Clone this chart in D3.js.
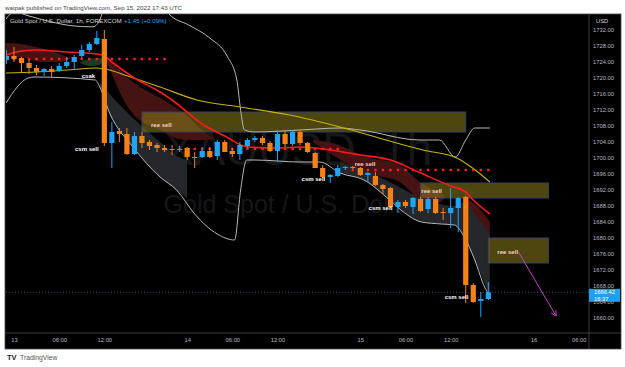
<!DOCTYPE html>
<html><head><meta charset="utf-8">
<script src="https://cdn.jsdelivr.net/npm/d3@7"></script>
<style>body{margin:0;background:#fff;} svg{display:block;font-family:"Liberation Sans",Arial,sans-serif;}</style>
</head><body><svg id="c" width="625" height="367"></svg>
<script>
// ---------- DATA ----------
const firstBar = -1; // bar index of first candle (13 Sep 00:00 UTC = 0)
const opens  = [1724.5,1725.5,1725,1723.75,1722.5,1721.5,1722.25,1721.75,1723,1724,1725.5,1727,1728.5,1729.75,1703.75,1706.75,1706,1701,1705.5,1704,1703.25,1702.5,1702.25,1702,1702.5,1700.25,1700.25,1701.75,1700.5,1704,1701.75,1701,1703,1704.5,1705,1703.75,1701.75,1706,1703.5,1706.5,1703.75,1701.25,1697.5,1695.25,1695.5,1697.5,1697.75,1697.5,1695.75,1695.5,1693.25,1692.5,1687.75,1689,1687.75,1689.75,1687.25,1689.75,1686.5,1686.25,1687.5,1690.25,1668.25,1664.25,1664.75];
const highs  = [1727,1727.75,1725.25,1724.5,1723.25,1722.5,1723,1723.75,1725.25,1725.75,1728.25,1729,1731.75,1732,1709,1707.5,1707.5,1706.5,1706.5,1704.5,1703.75,1703.25,1703.25,1703,1702.75,1701.5,1702.75,1702.75,1704.5,1704.5,1702.5,1704,1705,1705.5,1705.5,1704.25,1707,1707,1707,1707,1704,1701.5,1698.25,1696,1698.25,1698,1698,1697.75,1696.5,1696.5,1693.5,1692.75,1689.5,1689.5,1690.25,1690.25,1690.25,1690.25,1687.5,1692.5,1690.25,1690.5,1668.75,1666.5,1669];
const lows   = [1723.5,1724,1721.25,1721,1720.75,1720.5,1720.25,1721.5,1722.5,1722,1725,1726.5,1728.25,1703,1697.5,1704,1700.75,1700.75,1702.5,1702,1701.5,1701.5,1700.75,1701.5,1699.5,1697.5,1700,1700,1699.5,1701.5,1700.25,1699.5,1702.5,1704,1703.25,1701.5,1699,1702.75,1703,1703.25,1701.25,1697.5,1695,1693.75,1695.25,1697,1697.25,1695.5,1694,1693,1691,1687.5,1686.25,1687.5,1686,1686.5,1686.25,1686,1684.5,1682.5,1681.5,1663.75,1663.75,1660.25,1664.5];
const closes = [1725.5,1724.75,1723.75,1722.5,1721.5,1722.25,1721.5,1723,1724,1725.25,1727,1728.5,1730,1703.75,1706.5,1706,1701,1705.5,1703.75,1703,1702.5,1702,1702,1702.25,1700.25,1700,1701.75,1700.25,1704,1701.5,1701,1703.25,1704.5,1705,1703.75,1701.75,1706,1703.5,1706.5,1703.75,1701.5,1697.5,1695.25,1695.75,1697.5,1697.75,1697.5,1695.75,1696.25,1693.25,1692.25,1687.75,1689,1688,1690,1686.75,1689.75,1686.25,1686.25,1687.5,1690,1668.25,1664,1664.75,1666.42];

// indicator lines: [bar index, price]
const sma20 = [[-1.06,1725.75],[1,1726.75],[3,1727],[7,1726.5],[11,1726],[12,1725.5],[13,1724],[16,1720],[19.4,1716.5],[21,1714.5],[25,1708.5],[28,1705.5],[31,1702.75],[35,1702.5],[38,1702.75],[42,1702],[46,1700.75],[50,1699.5],[54,1696.25],[58,1693],[60,1691.5],[61,1689.5],[63.2,1686]];
const slowMA = [[-1.06,1721.25],[3,1721.5],[7,1722],[11,1722.5],[12.7,1722],[14.7,1720.75],[19.4,1717.75],[24.3,1714.5],[30,1712.75],[36.6,1710.75],[43.3,1707.75],[49.9,1704.25],[54.3,1702],[58.8,1700],[60.9,1697.5],[63.2,1694]];
const bbUpper = [[-1.06,1734.75],[0,1736.5],[2,1735.5],[5,1734],[8,1733],[10.5,1732.8],[11.5,1735],[12.5,1742],[19,1742],[20.6,1736],[23.2,1733.25],[26,1730],[28.3,1725.5],[29.6,1719.5],[30.1,1712],[30.6,1707],[32,1706.5],[38,1707],[43.3,1707.5],[46,1707],[53.9,1704.5],[56.5,1704.5],[58.6,1700.25],[60,1704.5],[61.2,1707.5],[63.2,1707.5]];
const bbLower = [[-1.06,1713.75],[1.9,1720],[2.8,1720.25],[10.8,1719.5],[11.4,1717.75],[12.7,1711.25],[15.8,1702.75],[19.4,1695.25],[21.6,1692],[24,1686],[27,1681],[29.3,1679.5],[30.1,1692],[30.9,1699.5],[32,1699.5],[38,1699],[40.6,1699],[43.3,1696.25],[46.5,1694.5],[49.9,1689.5],[51.9,1686.25],[54.1,1684],[56.8,1683.5],[58.5,1683.25],[59.8,1680.25],[61.2,1674.5],[62.5,1667.75],[63.2,1665.5]];

// ribbons: [bar index, upper price, lower price]
const redRibbonA = [[-1.06,1728.75,1725.25],[1,1728.5,1725.25],[3.45,1727.5,1724],[6.1,1726,1724],[7.4,1725,1724.75]];
const redRibbonB = [[12.1,1726,1725.5],[13,1724,1721],[15.8,1719,1711],[19.4,1715,1707],[22.7,1711,1704.5],[25.3,1706.5,1704.5],[26.5,1705,1704.75]];
const redRibbonC = [[39.7,1704.5,1704],[42.3,1703.75,1700.75],[46.8,1700.25,1696.25],[51.2,1698.25,1694],[54.1,1693.75,1689.5],[56.3,1691.5,1688.75],[57.2,1690.5,1690]];
const redRibbonD = [[59.8,1690,1687],[61.2,1688.5,1679.5],[63.2,1684,1673.5]];
const grayRibbonA = [[11.4,1719,1717.75],[12.7,1716,1711.25],[15.8,1710,1702.75],[19.4,1704,1695.25],[21.6,1700.5,1692],[23,1699.5,1690]];
const grayRibbonB = [[43.3,1699,1696.25],[46.5,1697,1694.5],[49.9,1694,1689.5],[54.1,1690,1684],[58.5,1688,1683.25],[59.8,1689,1680.25],[61.2,1686,1674.5],[63.2,1681,1665.5]];
const greenRibbon = [[8.8,1724,1723.75],[10,1724.75,1723],[11.4,1725,1723.25],[11.8,1724.6,1724.4]];

// dotted red levels: [from bar, to bar, price]
const dotLevels = [[-1,20,1724.75],[22,43,1702.25],[45,63,1697]];

// zones: [from bar, to bar, top, bottom]
const zones = [[17,60,1711.5,1706.5],[54,71,1693.75,1690],[63,71,1680,1673.75]];
// text annotations: [bar index (left edge), price (baseline), text]
const zoneLabels = [[18.2,1707.75,"ree sell"],[45.25,1698,"ree sell"],[54.1,1691.25,"ree sell"],[64.2,1676,"ree sell"]];
const signalLabels = [[8.1,1701.75,"csm sell"],[38.2,1694.25,"csm sell"],[47.1,1687,"csm sell"],[57.2,1664.75,"csm sell"],[9.0,1720,"csak"]];
const arrowPts = [[67,1676.5],[72,1660.5]];

const priceTicks = d3.range(1732, 1659, -4);
const timeTicks = [0,6,12,23,29,35,46,52,58,69,75];
const timeLabels = ["13","06:00","12:00","14","06:00","12:00","15","06:00","12:00","16","06:00"];
const lastPrice = 1666.42, countdown = "16:37";

// ---------- DRAW ----------
const svg = d3.select("#c");
const L = 6, R = 589, T = 14, B = 333;
const x = d3.scaleLinear().domain([-1.06, 76.37]).range([L, R]);
const y = d3.scaleLinear().domain([1656.25, 1736]).range([B, T]);

svg.append("text").attr("x",5).attr("y",10).attr("font-size",6.2).attr("fill","#444")
  .text("watpak published on TradingView.com, Sep 15, 2022 17:43 UTC");
svg.append("rect").attr("x",5).attr("y",14).attr("width",616).attr("height",335).attr("fill","#000").attr("stroke","#4a4a4a").attr("stroke-width",0.8);

const defs = svg.append("defs");
defs.append("clipPath").attr("id","pc").append("rect").attr("x",L).attr("y",T).attr("width",R-L).attr("height",B-T);
const g = svg.append("g").attr("clip-path","url(#pc)");

// watermark
g.append("text").attr("x",298).attr("y",165).attr("text-anchor","middle").attr("font-size",46).attr("fill","#171717").text("XAUUSD, 1h");
g.append("text").attr("x",290).attr("y",213).attr("text-anchor","middle").attr("font-size",25).attr("fill","#171717").text("Gold Spot / U.S. Dollar");

const area = d3.area().x(d=>x(d[0])).y0(d=>y(d[2])).y1(d=>y(d[1])).curve(d3.curveMonotoneX);
[redRibbonA,redRibbonB,redRibbonC,redRibbonD].forEach(r=>g.append("path").attr("d",area(r)).attr("fill","#4a1414").attr("opacity",0.95));
[grayRibbonA,grayRibbonB].forEach(r=>g.append("path").attr("d",area(r)).attr("fill","#26272b"));
g.append("path").attr("d",area(greenRibbon)).attr("fill","#1d3b24");

// zones
zones.forEach(z=>{
  g.append("rect").attr("x",x(z[0])).attr("y",y(z[2])).attr("width",x(z[1])-x(z[0])).attr("height",y(z[3])-y(z[2]))
   .attr("fill","rgba(140,128,25,0.55)").attr("stroke","#34406a").attr("stroke-width",1);
});

const line = d3.line().x(d=>x(d[0])).y(d=>y(d[1])).curve(d3.curveMonotoneX);
g.append("path").attr("d",line(bbUpper)).attr("fill","none").attr("stroke","#b8b8b8").attr("stroke-width",1);
g.append("path").attr("d",line(bbLower)).attr("fill","none").attr("stroke","#b8b8b8").attr("stroke-width",1);
g.append("path").attr("d",line(slowMA)).attr("fill","none").attr("stroke","#c9b400").attr("stroke-width",1.1);
g.append("path").attr("d",line(sma20)).attr("fill","none").attr("stroke","#ff1a1a").attr("stroke-width",1.6);

// dotted levels
dotLevels.forEach(l=>{
  d3.range(l[0], l[1]+1).forEach(i=>{
    g.append("rect").attr("x",x(i)-1.2).attr("y",y(l[2])-1.2).attr("width",2.4).attr("height",2.4).attr("fill","#ff2020");
  });
});

// last price dotted line
g.append("line").attr("x1",L).attr("x2",R).attr("y1",y(lastPrice)).attr("y2",y(lastPrice))
  .attr("stroke","#1d5f86").attr("stroke-width",0.8).attr("stroke-dasharray","1,2");

// candles
const up = "#22a4f5", dn = "#f58219";
opens.forEach((o,k)=>{
  const i = firstBar + k, c = closes[k], col = c >= o ? up : dn;
  const cx = x(i);
  g.append("line").attr("x1",cx).attr("x2",cx).attr("y1",y(highs[k])).attr("y2",y(lows[k])).attr("stroke",col).attr("stroke-width",1);
  const top = y(Math.max(o,c)), h = Math.max(1, Math.abs(y(o)-y(c)));
  g.append("rect").attr("x",cx-2.6).attr("y",top).attr("width",5.2).attr("height",h).attr("fill",col);
});

// labels
zoneLabels.forEach(l=>g.append("text").attr("x",x(l[0])).attr("y",y(l[1])).attr("font-size",6).attr("font-weight","bold").attr("fill","#f3d2c4").text(l[2]));
signalLabels.forEach(l=>g.append("text").attr("x",x(l[0])).attr("y",y(l[1])).attr("font-size",6).attr("font-weight","bold").attr("fill","#ffffff").text(l[2]));

// arrow
const ax1=x(arrowPts[0][0]), ay1=y(arrowPts[0][1]), ax2=x(arrowPts[1][0]), ay2=y(arrowPts[1][1]);
g.append("line").attr("x1",ax1).attr("y1",ay1).attr("x2",ax2).attr("y2",ay2).attr("stroke","#c23fc8").attr("stroke-width",1);
const ang = Math.atan2(ay2-ay1, ax2-ax1);
[0.5,-0.5].forEach(a=>{
  g.append("line").attr("x1",ax2).attr("y1",ay2).attr("x2",ax2-6*Math.cos(ang+a)).attr("y2",ay2-6*Math.sin(ang+a)).attr("stroke","#c23fc8").attr("stroke-width",1);
});

// title
svg.append("text").attr("x",10).attr("y",23).attr("font-size",6.2).attr("fill","#d6d6d6")
  .text("Gold Spot / U.S. Dollar, 1h, FOREXCOM");
svg.append("text").attr("x",124).attr("y",23).attr("font-size",6.2).attr("fill","#2aa3f0").text("+1.45 (+0.09%)");

// axes
svg.append("line").attr("x1",R).attr("x2",R).attr("y1",T).attr("y2",349).attr("stroke","#4a4a4a").attr("stroke-width",0.8);
svg.append("line").attr("x1",5).attr("x2",621).attr("y1",B).attr("y2",B).attr("stroke","#4a4a4a").attr("stroke-width",0.8);

const yAxis = d3.axisRight(y).tickValues(priceTicks).tickFormat(d3.format(".2f")).tickSize(0).tickPadding(4);
const ya = svg.append("g").attr("transform",`translate(${R},0)`).call(yAxis);
ya.select(".domain").remove();
ya.selectAll("text").attr("fill","#b8bac0").attr("font-size",5.8).attr("font-family","Liberation Sans, Arial, sans-serif");
svg.append("text").attr("x",596).attr("y",23).attr("font-size",5.8).attr("fill","#d0d0d0").text("USD");

const xAxis = d3.axisBottom(x).tickValues(timeTicks).tickFormat((d,i)=>timeLabels[i]).tickSize(0).tickPadding(5);
const xa = svg.append("g").attr("transform",`translate(0,${B})`).call(xAxis);
xa.select(".domain").remove();
xa.selectAll("text").attr("fill","#b8bac0").attr("font-size",5.8).attr("font-family","Liberation Sans, Arial, sans-serif");

// last price tag
const ly = y(lastPrice);
svg.append("rect").attr("x",R).attr("y",ly-3.5).attr("width",31).attr("height",13).attr("fill","#1e9ff2");
svg.append("text").attr("x",594).attr("y",ly+2).attr("font-size",5.8).attr("fill","#fff").text(d3.format(".2f")(lastPrice));
svg.append("text").attr("x",594).attr("y",ly+8.5).attr("font-size",5.8).attr("fill","#fff").text(countdown);

// footer logo
svg.append("text").attr("x",7).attr("y",360).attr("font-size",7.5).attr("font-weight","bold").attr("fill","#131722").text("TV");
svg.append("text").attr("x",20).attr("y",360).attr("font-size",6.8).attr("fill","#555").text("TradingView");
</script></body></html>
